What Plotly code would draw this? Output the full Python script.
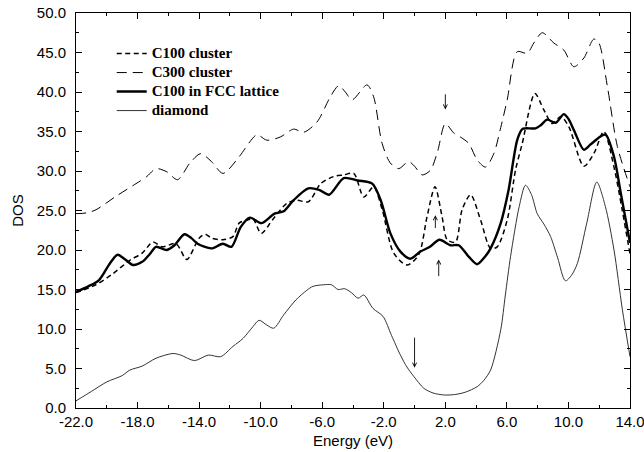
import plotly.graph_objects as go

# ---------------- data ----------------
c100_E = [-22, -20.7, -19.6, -18.5, -17.7, -17.0, -16.4, -15.5, -14.8, -14.0, -13.6, -13.2,
          -12.45, -11.8, -11.4, -10.7, -10.5, -9.96, -9.2, -8.3, -7.65, -6.9, -6.1, -5.25,
          -4.6, -3.95, -3.3, -2.66, -2.1, -1.35, -0.49, 0.27, 0.81, 1.33, 1.79, 2.12, 2.66,
          3.09, 3.64, 4.29, 4.94, 5.37, 6.02, 6.56, 7.0, 7.82, 8.41, 8.95, 9.5, 10.03,
          11.0, 11.65, 12.3, 12.96, 13.5, 14.0]
c100_dos = [14.6, 15.6, 17.0, 18.7, 19.6, 21.0, 20.4, 20.8, 18.8, 21.5, 22.0, 21.5,
            21.3, 21.7, 23.4, 23.9, 24.0, 22.1, 23.9, 25.9, 26.3, 26.1, 28.4, 29.3,
            29.5, 29.7, 26.7, 28.0, 25.1, 19.6, 18.1, 19.4, 24.2, 28.0, 24.2, 21.3, 21.0,
            25.1, 27.0, 23.8, 20.2, 20.4, 23.8, 30.1, 33.5, 39.8, 37.7, 36.0, 36.9, 35.6,
            30.6, 32.2, 35.0, 30.5, 25.0, 19.5]

c300_E = [-22, -21.3, -20.7, -19.4, -18.1, -17.4, -16.8, -16.1, -15.4, -14.6, -13.9, -13.2,
          -12.45, -11.4, -10.7, -10.24, -9.6, -8.73, -7.86, -7.21, -6.34, -5.47, -4.93,
          -4.5, -4.06, -3.09, -2.66, -2.11, -1.57, -1.03, -0.38, 0.0, 0.49, 1.03, 1.5,
          2.0, 2.55, 2.98, 3.52, 4.07, 4.61, 5.15, 5.6, 6.02, 6.67, 7.32, 7.75, 8.3,
          9.05, 9.7, 10.35, 11.0, 11.65, 11.98, 12.53, 13.18, 14.0]
c300_dos = [24.6, 24.7, 25.1, 26.8, 28.4, 29.3, 30.3, 29.9, 28.9, 31.0, 32.2, 31.2,
            29.7, 31.8, 33.7, 34.6, 33.9, 34.3, 35.3, 34.9, 36.2, 39.4, 40.8,
            40.0, 39.0, 40.9, 39.4, 33.5, 31.0, 30.3, 31.2, 30.6, 29.5, 30.1, 32.5,
            36.0, 34.8, 34.3, 33.5, 31.4, 30.5, 32.2, 35.5, 39.0, 45.1, 44.9, 46.2, 47.5,
            46.2, 45.3, 43.2, 44.3, 46.7, 46.2, 40.7, 33.1, 28.0]

fcc_E = [-22, -21.2, -20.5, -19.8, -19.3, -18.8, -18.3, -17.7, -17.2, -16.8, -16.1, -15.6,
         -14.95, -14.5, -14.1, -13.2, -12.45, -11.9, -11.3, -10.7, -9.96, -9.1, -8.5,
         -7.86, -6.9, -6.2, -5.55, -4.6, -3.7, -2.75, -2.2, -1.57, -0.92, -0.27, 0.38,
         1.0, 1.62, 2.33, 2.87, 3.5, 4.07, 4.6, 4.94, 5.6, 6.1, 6.67, 7.0, 7.21, 7.86,
         8.2, 8.62, 9.17, 9.7, 10.0, 10.35, 11.0, 11.4, 11.77, 12.1, 12.42, 12.96,
         13.4, 14.0]
fcc_dos = [14.7, 15.4, 16.2, 18.3, 19.4, 18.8, 18.1, 18.5, 19.5, 20.4, 20.0, 20.6,
           22.0, 21.5, 20.8, 20.2, 20.8, 20.4, 22.9, 24.1, 23.4, 24.6, 24.9,
           26.3, 27.8, 27.6, 27.0, 29.1, 28.8, 28.4, 26.3, 22.1, 19.8, 18.9, 19.8,
           20.4, 21.3, 20.6, 20.6, 19.2, 18.2, 19.2, 20.2, 23.4, 27.5, 33.9, 35.3, 35.4, 35.4,
           35.8, 36.5, 36.1, 37.2, 36.6, 35.2, 32.7, 33.3, 33.9, 34.4, 34.6, 31.8,
           27.2, 20.9]

dia_E = [-22, -21, -20, -19, -18.5, -17.7, -16.8, -15.7, -15.2, -14.3, -13.4, -12.6,
         -11.8, -11.15, -10.5, -10.1, -9.6, -9.15, -8.5, -7.7, -7.0, -6.6, -5.9, -5.4,
         -4.97, -4.54, -4.1, -3.67, -3.3, -2.7, -2.05, -1.5, -0.92, -0.5, -0.05, 0.6,
         1.2, 1.9, 2.6, 3.3, 4.07, 4.5, 4.94, 5.6, 5.9, 6.24, 6.8, 7.21, 7.6, 7.97, 8.4,
         8.84, 9.3, 9.8, 10.2, 10.58, 11.2, 11.84, 12.4, 12.96, 13.5, 14.0]
dia_dos = [0.9, 2.1, 3.3, 4.1, 4.8, 5.3, 6.3, 6.9, 6.7, 6.0, 6.7, 6.5,
           7.8, 8.8, 10.3, 11.1, 10.5, 10.1, 11.8, 13.7, 14.9, 15.4, 15.6, 15.6,
           15.0, 15.1, 14.6, 13.9, 14.3, 12.6, 11.6, 9.2, 6.7, 5.2, 4.0, 2.5,
           1.9, 1.65, 1.7, 2.0, 2.7, 3.5, 4.8, 9.9, 14.3, 19.2, 25.5, 28.2, 27.0, 24.6, 23.3,
           21.7, 19.0, 16.1, 16.8, 18.3, 23.5, 28.6, 25.5, 20.0, 12.5, 6.5]

series_names = ["C100 cluster", "C300 cluster", "C100 in FCC lattice", "diamond"]

x_ticks = [-22, -18, -14, -10, -6, -2, 2, 6, 10, 14]
y_ticks = [0, 5, 10, 15, 20, 25, 30, 35, 40, 45, 50]

# arrows: (head E, head DOS, tail E, tail DOS)
arrows = [
    (1.35, 24.4, 1.35, 22.6),
    (1.57, 18.8, 1.57, 16.5),
    (2.0, 37.8, 2.0, 39.9),
    (0.0, 5.1, 0.0, 9.1),
]

# ---------------- figure ----------------
def legend_label(name):
    return f"<span style='font-size:15px'>{name}</span>"

fig = go.Figure()
fig.add_trace(go.Scatter(x=c100_E, y=c100_dos, name=legend_label(series_names[0]), mode="lines",
                         line=dict(color="black", width=1.5, dash="5px,3.5px", shape="spline", smoothing=0.8)))
fig.add_trace(go.Scatter(x=c300_E, y=c300_dos, name=legend_label(series_names[1]), mode="lines",
                         line=dict(color="black", width=1.0, dash="10px,6px", shape="spline", smoothing=0.8)))
fig.add_trace(go.Scatter(x=fcc_E, y=fcc_dos, name=legend_label(series_names[2]), mode="lines",
                         line=dict(color="black", width=2.4, shape="spline", smoothing=0.8)))
fig.add_trace(go.Scatter(x=dia_E, y=dia_dos, name=legend_label(series_names[3]), mode="lines",
                         line=dict(color="#333333", width=1.0, shape="spline", smoothing=0.8)))

for hx, hy, tx, ty in arrows:
    fig.add_annotation(x=hx, y=hy, ax=tx, ay=ty, xref="x", yref="y", axref="x", ayref="y",
                       text="", showarrow=True, arrowhead=5, arrowsize=0.9, arrowwidth=0.9,
                       arrowcolor="black", standoff=0, startstandoff=0)

axis_font = dict(family="Liberation Sans, Arial, sans-serif", size=15, color="black")

fig.update_xaxes(range=[-22, 14], tickmode="array", tickvals=x_ticks,
                 ticktext=[f"{v:.1f}" for v in x_ticks],
                 ticks="inside", ticklen=6, tickwidth=1, tickcolor="black",
                 minor=dict(dtick=2, tick0=-22, ticks="inside", ticklen=3, tickcolor="black"),
                 showline=True, linecolor="black", linewidth=1, mirror="ticks",
                 showgrid=False, zeroline=False, tickfont=axis_font,
                 ticklabeloverflow="allow", automargin=False,
                 title=dict(text="Energy (eV)", font=axis_font, standoff=6))
fig.update_yaxes(range=[0, 50], tickmode="array", tickvals=y_ticks,
                 ticktext=[f"{v:.1f}" for v in y_ticks],
                 ticks="inside", ticklen=6, tickwidth=1, tickcolor="black",
                 minor=dict(dtick=2.5, tick0=0, ticks="inside", ticklen=3, tickcolor="black"),
                 showline=True, linecolor="black", linewidth=1, mirror="ticks",
                 showgrid=False, zeroline=False, tickfont=axis_font,
                 ticklabelstandoff=6, automargin=False, ticklabeloverflow="allow",
                 title=dict(text="DOS", font=axis_font, standoff=9))

fig.update_layout(
    width=644, height=452,
    margin=dict(l=76, r=14, t=13, b=44),
    paper_bgcolor="white", plot_bgcolor="white",
    showlegend=True,
    legend=dict(x=0.0645, y=0.934, xanchor="left", yanchor="top",
                bgcolor="rgba(0,0,0,0)", borderwidth=0,
                font=dict(family="Liberation Serif, Times New Roman, serif", size=12,
                          color="black", weight="bold"),
                tracegroupgap=0),
)

# remove the default 8px page margin so the figure fills the window exactly
fig.write_html("out.html", config={"displayModeBar": False},
               post_script="document.body.style.margin='0px';")
